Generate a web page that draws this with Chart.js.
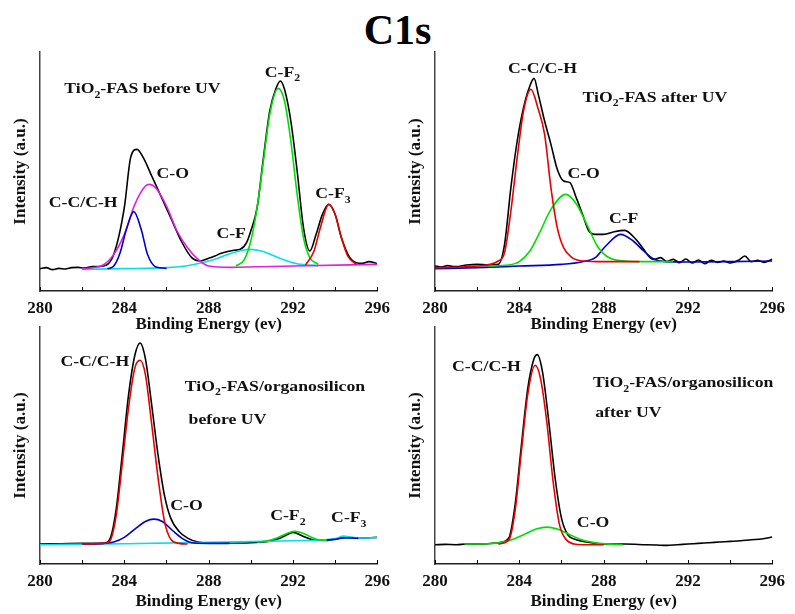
<!DOCTYPE html>
<html>
<head>
<meta charset="utf-8">
<script src="https://cdn.jsdelivr.net/npm/chart.js@4.4.1/dist/chart.umd.min.js"></script>
<style>
  body { margin: 0; background: #fff; width: 795px; height: 614px; position: relative; overflow: hidden; }
  canvas { position: absolute; }
  #title { position: absolute; left: 0; width: 795px; top: 9px; text-align: center;
           font: bold 42px "Liberation Serif", serif; line-height: 42px; }
</style>
</head>
<body>
<div id="title">C1s</div>
<canvas id="p1" width="397" height="296" style="left:0;top:40px"></canvas>
<canvas id="p2" width="397" height="296" style="left:395px;top:40px"></canvas>
<canvas id="p3" width="397" height="298" style="left:0;top:315px"></canvas>
<canvas id="p4" width="397" height="298" style="left:395px;top:315px"></canvas>
<script>
// x axis ticks (Binding Energy, eV)
const xMin = 280, xMax = 296;
const xLabelTicks = [280, 284, 288, 292, 296];

// ---- Panel 1 : TiO2-FAS before UV ----
const p1BlackX = [280, 280.3, 280.6, 280.9, 281.2, 281.5, 281.8, 282.1, 282.5, 283, 283.5, 284, 284.3, 284.6, 284.9, 285.3, 285.7, 286.2, 286.7, 287.2, 287.6, 288, 288.3, 288.6, 289.2, 289.5, 289.8, 290, 290.3, 290.6, 290.9, 291.2, 291.4, 291.6, 291.9, 292.2, 292.5, 292.8, 293.1, 293.4, 293.7, 294, 294.3, 294.7, 295, 295.3, 295.6, 296];
const p1BlackY = [67, 70, 64, 68, 66, 70, 71, 69, 73, 75, 110, 250, 400, 425, 400, 345, 290, 220, 150, 100, 90, 98, 105, 113, 122, 125, 145, 180, 250, 400, 540, 608, 630, 605, 510, 360, 190, 120, 170, 230, 260, 230, 160, 100, 85, 83, 88, 82];
const p1BlueX = [283.2, 283.5, 283.8, 284.1, 284.45, 284.8, 285.1, 285.5, 286];
const p1BlueY = [67, 75, 115, 185, 238, 185, 110, 72, 68];
const p1MagentaX = [282, 282.5, 283, 283.5, 284, 284.5, 285, 285.2, 285.5, 286, 286.5, 287, 287.5, 288, 289, 292, 296];
const p1MagentaY = [66, 70, 78, 110, 170, 260, 315, 320, 308, 255, 180, 130, 95, 75, 71, 75, 80];
const p1CyanX = [282, 284, 286, 287, 288, 288.5, 289, 289.5, 290, 290.5, 291, 291.5, 292, 292.5, 293.2];
const p1CyanY = [65, 67, 70, 76, 90, 100, 112, 121, 125, 120, 108, 95, 85, 79, 76];
const p1GreenX = [289.3, 289.7, 290, 290.3, 290.6, 290.9, 291.3, 291.6, 291.9, 292.2, 292.5, 292.8, 293.2];
const p1GreenY = [75, 95, 150, 250, 390, 530, 608, 570, 450, 290, 160, 100, 80];
const p1RedX = [292.6, 293, 293.3, 293.7, 294, 294.3, 294.6, 295];
const p1RedY = [78, 120, 190, 260, 230, 160, 105, 80];

// ---- Panel 2 : TiO2-FAS after UV ----
const p2BlackX = [280, 280.3, 280.6, 281, 281.5, 282, 282.5, 283, 283.3, 283.6, 283.9, 284.2, 284.5, 284.7, 284.9, 285.2, 285.5, 285.8, 286.1, 286.4, 286.7, 287, 287.3, 287.6, 288, 288.5, 289, 289.3, 289.6, 289.9, 290.2, 290.4, 290.7, 291, 291.3, 291.6, 291.9, 292.2, 292.5, 292.8, 293.1, 293.4, 293.7, 294, 294.4, 294.7, 295, 295.3, 295.6, 296];
const p2BlackY = [75, 72, 76, 73, 78, 80, 78, 80, 140, 310, 450, 550, 615, 638, 590, 510, 440, 365, 330, 325, 280, 230, 180, 170, 170, 178, 182, 170, 150, 125, 100, 95, 100, 88, 95, 85, 96, 84, 93, 82, 92, 86, 90, 84, 92, 105, 88, 92, 86, 95];
const p2RedX = [280, 282, 283, 283.3, 283.6, 283.9, 284.2, 284.55, 284.9, 285.2, 285.5, 285.8, 286.1, 286.5, 287, 288, 289.7];
const p2RedY = [70, 75, 90, 115, 240, 400, 540, 605, 545, 470, 310, 190, 130, 100, 90, 88, 88];
const p2GreenX = [282.5, 283.5, 284, 284.5, 285, 285.5, 286.2, 286.7, 287.2, 287.7, 288.2, 289, 290, 291.3];
const p2GreenY = [75, 78, 88, 120, 180, 245, 290, 262, 200, 135, 102, 90, 88, 88];
const p2BlueX = [280, 282, 284, 286, 287, 287.6, 288.1, 288.8, 289.4, 289.9, 290.4, 291, 292, 294, 296];
const p2BlueY = [67, 70, 75, 80, 88, 100, 135, 170, 150, 120, 95, 88, 87, 88, 90];

// ---- Panel 3 : TiO2-FAS/organosilicon before UV ----
const p3BlackX = [280, 281, 282, 283, 283.3, 283.6, 283.9, 284.2, 284.5, 284.75, 285, 285.3, 285.6, 285.9, 286.2, 286.6, 287, 287.5, 288, 289, 290, 290.5, 291, 291.5, 292, 292.5, 293, 293.5, 294, 294.5, 295, 296];
const p3BlackY = [60, 61, 62, 62, 73, 158, 328, 508, 628, 665, 618, 478, 328, 208, 138, 98, 78, 66, 63, 63, 64, 66, 70, 81, 95, 83, 72, 72, 75, 81, 78, 80];
const p3RedX = [282, 283, 283.3, 283.6, 283.9, 284.2, 284.5, 284.75, 285, 285.3, 285.6, 285.9, 286.2, 286.6, 287];
const p3RedY = [60, 62, 68, 140, 300, 470, 590, 613, 570, 420, 260, 130, 75, 62, 60];
const p3BlueX = [282, 283, 283.5, 284, 284.5, 285, 285.4, 285.8, 286.3, 286.8, 287.3, 288, 289];
const p3BlueY = [60, 62, 66, 80, 105, 128, 135, 128, 100, 75, 63, 62, 62];
const p3Blue2X = [293.6, 294, 294.4, 294.8, 295.1];
const p3Blue2Y = [72, 74, 78, 78, 77];
const p3GreenX = [290.3, 290.8, 291.3, 291.8, 292.1, 292.5, 292.9, 293.3, 293.7];
const p3GreenY = [66, 70, 80, 94, 98, 92, 80, 72, 70];
const p3CyanX = [280, 284, 288, 292, 293.5, 294, 294.4, 294.8, 295.2, 296];
const p3CyanY = [58, 61, 65, 70, 73, 76, 84, 80, 78, 80];

// ---- Panel 4 : TiO2-FAS/organosilicon after UV ----
const p4BlackX = [280, 280.5, 281, 281.5, 282, 282.5, 283, 283.5, 283.8, 284.1, 284.4, 284.7, 284.85, 285.1, 285.4, 285.7, 286, 286.3, 286.7, 287.2, 288, 289, 290, 290.5, 291, 291.5, 292, 292.5, 293, 293.5, 294, 294.5, 295, 295.5, 296];
const p4BlackY = [58, 59, 58, 60, 60, 61, 64, 78, 178, 358, 528, 618, 630, 578, 428, 258, 138, 88, 73, 66, 60, 60, 58, 57, 56, 58, 60, 62, 64, 66, 68, 70, 73, 75, 81];
const p4RedX = [283, 283.5, 283.8, 284.1, 284.4, 284.75, 285, 285.3, 285.6, 285.9, 286.2, 286.6, 287, 288];
const p4RedY = [60, 72, 160, 340, 510, 598, 560, 430, 250, 120, 75, 60, 58, 58];
const p4GreenX = [281.4, 282.5, 283.5, 284.2, 284.8, 285.3, 285.8, 286.4, 287, 287.8, 288.9];
const p4GreenY = [60, 61, 70, 88, 105, 111, 105, 88, 72, 62, 58];

// colours
const BLACK = '#000000', RED = '#e60000', BLUE = '#0000cc', MAGENTA = '#e020e0', CYAN = '#00e0ee', GREEN = '#00dd00';
const serif = '"Liberation Serif", "Times New Roman", serif';

// label lists: text ('_' marks a subscript char), x, y, align
const p1Labels = [
    ['TiO_2-FAS before UV', 281.15, 605, 'left'],
    ['C-F_2', 291.5, 655, 'center'],
    ['C-O', 286.3, 350, 'center'],
    ['C-C/C-H', 282.05, 265, 'center'],
    ['C-F', 289.07, 170, 'center'],
    ['C-F_3', 293.9, 290, 'center']
];
const p2Labels = [
    ['C-C/C-H', 285.1, 665, 'center'],
    ['TiO_2-FAS after UV', 287.0, 580, 'left'],
    ['C-O', 287.05, 350, 'center'],
    ['C-F', 288.95, 215, 'center']
];
const p3Labels = [
    ['C-C/C-H', 282.6, 606, 'center'],
    ['TiO_2-FAS/organosilicon', 286.87, 533, 'left'],
    ['before UV', 287.05, 433, 'left'],
    ['C-O', 286.95, 173, 'center'],
    ['C-F_2', 291.76, 143, 'center'],
    ['C-F_3', 294.65, 138, 'center']
];
const p4Labels = [
    ['C-C/C-H', 282.44, 593, 'center'],
    ['TiO_2-FAS/organosilicon', 287.5, 543, 'left'],
    ['after UV', 287.6, 453, 'left'],
    ['C-O', 287.5, 123, 'center']
];

// x/y arrays -> point list
function pts(xs, ys) {
    return xs.map((x, i) => ({ x: x, y: ys[i] }));
}

function line(xs, ys, color) {
    return {
        data: pts(xs, ys),
        borderColor: color,
        borderWidth: 1.6,
        pointRadius: 0,
        fill: false,
        cubicInterpolationMode: 'monotone'
    };
}

// split a label into normal / subscript pieces
function pieces(text) {
    const out = [];
    let buf = '';
    for (let i = 0; i < text.length; i++) {
        if (text[i] === '_') {
            if (buf) out.push([buf, false]);
            out.push([text[i + 1], true]);
            buf = '';
            i++;
        } else {
            buf += text[i];
        }
    }
    if (buf) out.push([buf, false]);
    return out;
}

// peak names, sample names and inward ticks
const peakLabelPlugin = {
    id: 'peakLabels',
    afterDatasetsDraw(chart) {
        const ctx = chart.ctx;
        const xs = chart.scales.x, ys = chart.scales.y;
        const stretch = 1.18;
        const big = 'bold 15px ' + serif, small = 'bold 10px ' + serif;

        // small ticks pointing up into the plot
        ctx.save();
        ctx.strokeStyle = '#000';
        ctx.lineWidth = 1;
        xs.ticks.forEach(t => {
            const px = Math.round(xs.getPixelForValue(t.value)) + 0.5;
            ctx.beginPath();
            ctx.moveTo(px, xs.top);
            ctx.lineTo(px, xs.top - 4);
            ctx.stroke();
        });
        ctx.restore();

        const labels = chart.options.plugins.peakLabels.items;
        labels.forEach(([text, x, y, align]) => {
            const parts = pieces(text);
            ctx.save();
            ctx.fillStyle = '#111';
            ctx.textBaseline = 'middle';
            let w = 0;
            parts.forEach(([s, sub]) => {
                ctx.font = sub ? small : big;
                w += ctx.measureText(s).width;
            });
            let px = xs.getPixelForValue(x);
            const py = ys.getPixelForValue(y);
            ctx.translate(px, py);
            ctx.scale(stretch, 1);
            let cx = align === 'center' ? -w / 2 : 0;
            parts.forEach(([s, sub]) => {
                ctx.font = sub ? small : big;
                ctx.fillText(s, cx, sub ? 6 : 0);
                cx += ctx.measureText(s).width;
            });
            ctx.restore();
        });
    }
};

function makePanel(id, datasets, labels, yMax, xAxisHeight) {
    return new Chart(document.getElementById(id), {
        type: 'line',
        data: { datasets: datasets },
        options: {
            responsive: false,
            animation: false,
            devicePixelRatio: 1,
            layout: { padding: { top: 12, right: 11, left: 0, bottom: 0 } },
            plugins: {
                legend: { display: false },
                tooltip: { enabled: false },
                peakLabels: { items: labels }
            },
            scales: {
                x: {
                    type: 'linear',
                    min: xMin,
                    max: xMax,
                    afterFit: s => { s.height = xAxisHeight; },
                    border: { display: true, color: '#222', width: 1.5 },
                    grid: { display: true, drawOnChartArea: false, tickLength: 0 },
                    ticks: {
                        stepSize: 2,
                        autoSkip: false,
                        maxRotation: 0,
                        padding: 7,
                        color: '#111',
                        font: { family: serif, weight: 'bold', size: 17 },
                        callback: v => xLabelTicks.includes(v) ? String(v) : ''
                    },
                    title: {
                        display: true,
                        text: 'Binding Energy (ev)',
                        color: '#111',
                        padding: { top: 0, bottom: 1 },
                        font: { family: serif, weight: 'bold', size: 17 }
                    }
                },
                y: {
                    min: 0,
                    max: yMax,
                    afterFit: s => { s.width = 40; },
                    border: { display: true, color: '#444', width: 1.5 },
                    grid: { display: false },
                    ticks: { display: false },
                    title: {
                        display: true,
                        text: 'Intensity (a.u.)',
                        color: '#111',
                        padding: { top: 10, bottom: 0 },
                        font: { family: serif, weight: 'bold', size: 17 }
                    }
                }
            }
        },
        plugins: [peakLabelPlugin]
    });
}

// black measured curve goes last so it is drawn underneath the fits
makePanel('p1', [
    line(p1RedX, p1RedY, RED),
    line(p1GreenX, p1GreenY, GREEN),
    line(p1BlueX, p1BlueY, BLUE),
    line(p1MagentaX, p1MagentaY, MAGENTA),
    line(p1CyanX, p1CyanY, CYAN),
    line(p1BlackX, p1BlackY, BLACK)
], p1Labels, 717, 45);

makePanel('p2', [
    line(p2RedX, p2RedY, RED),
    line(p2GreenX, p2GreenY, GREEN),
    line(p2BlueX, p2BlueY, BLUE),
    line(p2BlackX, p2BlackY, BLACK)
], p2Labels, 717, 45);

makePanel('p3', [
    line(p3RedX, p3RedY, RED),
    line(p3BlueX, p3BlueY, BLUE),
    line(p3Blue2X, p3Blue2Y, BLUE),
    line(p3GreenX, p3GreenY, GREEN),
    line(p3CyanX, p3CyanY, CYAN),
    line(p3BlackX, p3BlackY, BLACK)
], p3Labels, 713, 49);

makePanel('p4', [
    line(p4RedX, p4RedY, RED),
    line(p4GreenX, p4GreenY, GREEN),
    line(p4BlackX, p4BlackY, BLACK)
], p4Labels, 713, 49);
</script>
</body>
</html>
